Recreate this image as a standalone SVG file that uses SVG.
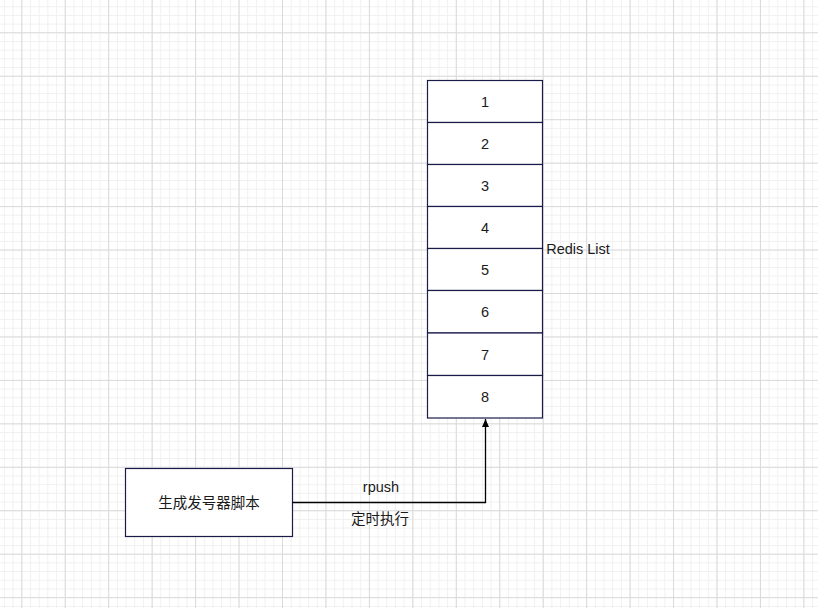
<svg xmlns="http://www.w3.org/2000/svg" width="818" height="608" viewBox="0 0 818 608">
<defs>
<pattern id="minor" x="21.3" y="32.3" width="8.69" height="8.69" patternUnits="userSpaceOnUse">
<path d="M0 0.5H8.69M0.5 0V8.69" stroke="#f0f0f0" stroke-width="1" fill="none"/>
</pattern>
<pattern id="major" x="21.3" y="32.3" width="43.45" height="43.45" patternUnits="userSpaceOnUse">
<path d="M0 0.5H43.45M0.5 0V43.45" stroke="#dadada" stroke-width="1" fill="none"/>
</pattern>
<marker id="arrow" markerWidth="10" markerHeight="10" refX="9" refY="5" orient="auto" markerUnits="userSpaceOnUse">
<path d="M1 1.5L9 5L1 8.5Z" fill="#000"/>
</marker>
<style>
.box{fill:#fff;stroke:#1b1b4a;stroke-width:1.2}
.t{font-family:"Liberation Sans","Noto Sans CJK SC",sans-serif;font-size:14.5px;fill:#1a1a1a;text-anchor:middle;dominant-baseline:central}
.edge{fill:none;stroke:#000;stroke-width:1.3}
</style>
</defs>
<rect width="818" height="608" fill="#fff"/>
<rect width="818" height="608" fill="url(#minor)"/>
<rect width="818" height="608" fill="url(#major)"/>
<g id="list">
<g id="item1"><rect class="box" x="427.5" y="80.5" width="115" height="42"/><text class="t" x="485" y="102">1</text></g>
<g id="item2"><rect class="box" x="427.5" y="122.5" width="115" height="42"/><text class="t" x="485" y="144">2</text></g>
<g id="item3"><rect class="box" x="427.5" y="164.5" width="115" height="42"/><text class="t" x="485" y="186">3</text></g>
<g id="item4"><rect class="box" x="427.5" y="206.5" width="115" height="42"/><text class="t" x="485" y="228">4</text></g>
<g id="item5"><rect class="box" x="427.5" y="248.5" width="115" height="42"/><text class="t" x="485" y="270">5</text></g>
<g id="item6"><rect class="box" x="427.5" y="290.5" width="115" height="42.5"/><text class="t" x="485" y="312">6</text></g>
<g id="item7"><rect class="box" x="427.5" y="333" width="115" height="42.5"/><text class="t" x="485" y="355">7</text></g>
<g id="item8"><rect class="box" x="427.5" y="375.5" width="115" height="42.5"/><text class="t" x="485" y="397">8</text></g>
<text class="t" x="578" y="249">Redis List</text>
</g>
<g id="script">
<rect class="box" x="125.5" y="468.5" width="167" height="68"/>
<text class="t" x="209" y="503">生成发号器脚本</text>
</g>
<g id="connectors">
<path class="edge" d="M292.5 502.5H485.5V419" marker-end="url(#arrow)"/>
<text class="t" x="381" y="487">rpush</text>
<text class="t" x="380" y="519">定时执行</text>
</g>
</svg>
